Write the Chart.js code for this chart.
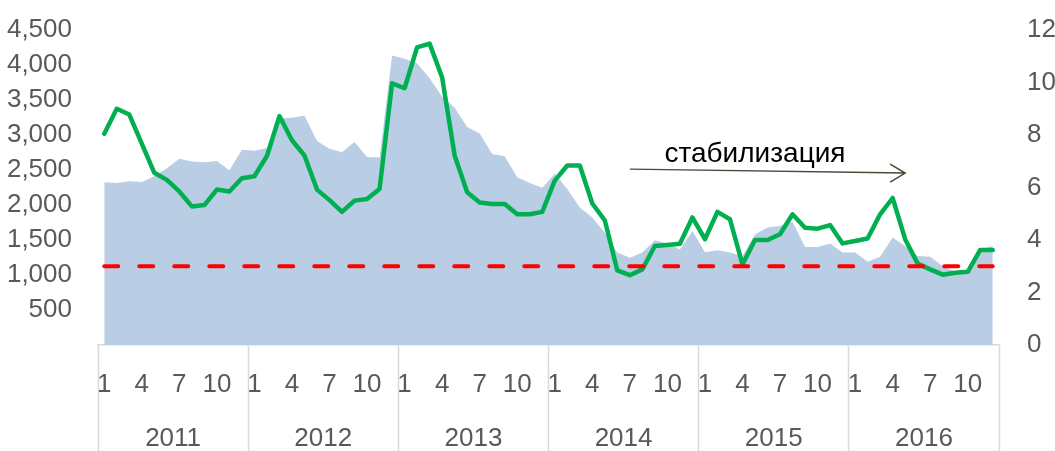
<!DOCTYPE html>
<html>
<head>
<meta charset="utf-8">
<script src="https://cdn.jsdelivr.net/npm/chart.js@4.4.1/dist/chart.umd.min.js"></script>
<style>
  html, body { margin: 0; padding: 0; background: #fff; }
  #wrap { width: 1055px; height: 451px; position: relative; }
</style>
</head>
<body>
<div id="wrap"><canvas id="chart"></canvas></div>
<script>
const years = ['2011', '2012', '2013', '2014', '2015', '2016'];
const months = [1, 2, 3, 4, 5, 6, 7, 8, 9, 10, 11, 12];
const tickMonths = [1, 4, 7, 10];

// area, left axis
const volume = [
    2325, 2315, 2340, 2330, 2410, 2525, 2660, 2620, 2610, 2630, 2495, 2790,
    2775, 2815, 3235, 3245, 3275, 2915, 2805, 2755, 2900, 2685, 2680, 4135,
    4090, 4025, 3810, 3545, 3390, 3115, 3020, 2730, 2695, 2395, 2315, 2245,
    2445, 2230, 1965, 1820, 1605, 1320, 1245, 1320, 1495, 1450, 1365, 1630,
    1325, 1355, 1320, 1270, 1580, 1680, 1700, 1760, 1400, 1400, 1450, 1320,
    1320, 1190, 1260, 1535, 1415, 1270, 1260, 1125, 1045, 1045, 1365, 1415
];

// green line, right axis
const rate = [
    8.05, 9.0, 8.78, 7.67, 6.56, 6.29, 5.85, 5.28, 5.33, 5.92, 5.85, 6.35,
    6.43, 7.2, 8.72, 7.8, 7.22, 5.92, 5.52, 5.07, 5.5, 5.56, 5.94, 9.97,
    9.78, 11.34, 11.48, 10.19, 7.22, 5.82, 5.43, 5.37, 5.37, 4.98, 4.98, 5.07,
    6.26, 6.84, 6.84, 5.39, 4.75, 2.84, 2.66, 2.88, 3.77, 3.81, 3.86, 4.86,
    4.03, 5.07, 4.79, 3.07, 4.0, 4.0, 4.22, 4.98, 4.47, 4.43, 4.57, 3.87,
    3.96, 4.06, 4.98, 5.6, 4.03, 3.1, 2.88, 2.68, 2.75, 2.79, 3.62, 3.62
];

const threshold = 3;
const arrowText = 'стабилизация';

const labels = years.flatMap(yr => months.map(m => yr + '-' + m));
const lastLabel = labels[labels.length - 1];

const FONT = '"Liberation Sans Narrow", "Arial Narrow", "Liberation Sans", Arial, sans-serif';
const TEXT = '#595959';

// fixed axis sizes so the plot sits where the original one does
function fixWidth(w) {
    return s => {
        s.width = w;
        s.paddingTop = 0;
        s.paddingBottom = 0;
    };
}

const extras = {
    id: 'extras',
    afterDraw(chart) {
        const ctx = chart.ctx;
        const x = chart.scales.x;
        const y2 = chart.scales.y2;
        ctx.save();

        // year labels under the month ticks
        ctx.font = '26px ' + FONT;
        ctx.fillStyle = TEXT;
        ctx.textAlign = 'center';
        ctx.textBaseline = 'middle';
        years.forEach((yr, i) => {
            const cx = (x.getPixelForValue(i * 12) + x.getPixelForValue(i * 12 + 11)) / 2;
            ctx.fillText(yr, cx, x.top + 94);
        });

        // "stabilisation" arrow
        const x0 = x.getPixelForValue(42), yA = y2.getPixelForValue(6.7);
        const x1 = x.getPixelForValue(64), yB = y2.getPixelForValue(6.55);
        ctx.strokeStyle = '#4a4838';
        ctx.lineWidth = 1.5;
        ctx.beginPath();
        ctx.moveTo(x0, yA);
        ctx.lineTo(x1, yB);
        ctx.moveTo(x1 - 15, yB - 9);
        ctx.lineTo(x1, yB);
        ctx.lineTo(x1 - 15, yB + 9);
        ctx.stroke();

        ctx.font = '28px ' + FONT;
        ctx.fillStyle = '#000';
        ctx.fillText(arrowText, x.getPixelForValue(52), y2.getPixelForValue(7.25));
        ctx.restore();
    }
};

new Chart(document.getElementById('chart'), {
    type: 'line',
    data: {
        labels: labels,
        datasets: [{
            label: 'threshold',
            data: [{ x: labels[0], y: threshold }, { x: lastLabel, y: threshold }],
            yAxisID: 'y2',
            borderColor: '#ff0000',
            borderWidth: 4,
            borderDash: [14, 21],
            borderCapStyle: 'round',
            pointRadius: 0,
            fill: false
        }, {
            label: 'rate',
            data: rate,
            yAxisID: 'y2',
            borderColor: '#00b050',
            borderWidth: 4.5,
            borderJoinStyle: 'round',
            borderCapStyle: 'round',
            pointRadius: 0,
            tension: 0,
            fill: false
        }, {
            label: 'volume',
            data: volume,
            yAxisID: 'y',
            borderWidth: 0,
            backgroundColor: '#b9cde5',
            pointRadius: 0,
            tension: 0,
            fill: 'origin'
        }]
    },
    options: {
        responsive: true,
        maintainAspectRatio: false,
        animation: false,
        layout: { padding: { top: 30, left: 0, right: 0, bottom: 0 } },
        plugins: {
            legend: { display: false },
            tooltip: { enabled: false }
        },
        scales: {
            x: {
                type: 'category',
                offset: true,
                afterFit: s => { s.height = 106; },
                border: { display: true, color: '#d9d9d9', width: 1.5 },
                grid: {
                    offset: true,
                    drawOnChartArea: false,
                    drawTicks: true,
                    tickLength: 106,
                    tickWidth: 1.5,
                    tickColor: c => (c.index === undefined || c.index % 12 === 0) ? '#d9d9d9' : 'rgba(0,0,0,0)'
                },
                ticks: {
                    autoSkip: false,
                    maxRotation: 0,
                    padding: -82,
                    color: TEXT,
                    font: { family: FONT, size: 26 },
                    callback: function (v, i) {
                        const m = months[i % 12];
                        return tickMonths.includes(m) ? String(m) : '';
                    }
                }
            },
            y: {
                position: 'left',
                min: 0,
                max: 4500,
                afterFit: fixWidth(98),
                border: { display: false },
                grid: { display: false, drawTicks: false },
                ticks: {
                    stepSize: 500,
                    autoSkip: false,
                    padding: 26,
                    color: TEXT,
                    font: { family: FONT, size: 26 },
                    callback: v => v === 0 ? '' : v.toLocaleString('en-US')
                }
            },
            y2: {
                position: 'right',
                min: 0,
                max: 12,
                afterFit: fixWidth(56),
                border: { display: false },
                grid: { display: false, drawTicks: false },
                ticks: {
                    stepSize: 2,
                    autoSkip: false,
                    padding: 28,
                    color: TEXT,
                    font: { family: FONT, size: 26 }
                }
            }
        }
    },
    plugins: [extras]
});
</script>
</body>
</html>
